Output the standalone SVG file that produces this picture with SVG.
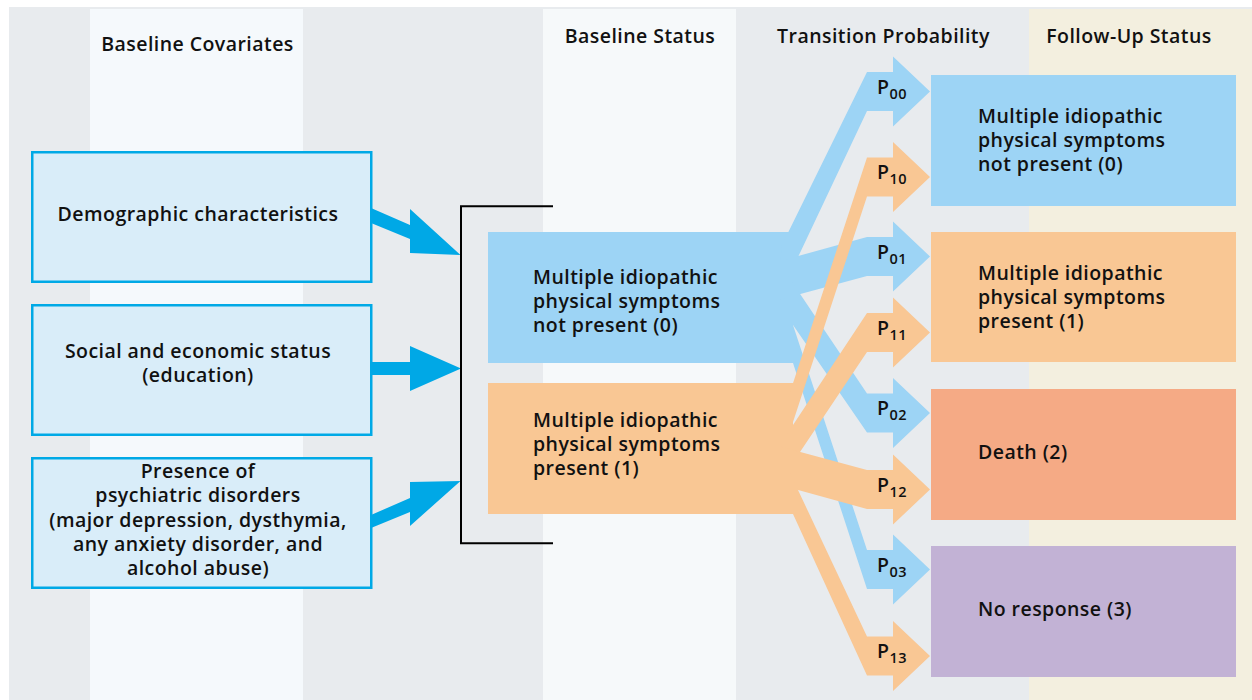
<svg xmlns="http://www.w3.org/2000/svg" width="1252" height="700" viewBox="0 0 1252 700">
<style>
.t{font-family:"Open Sans","Noto Sans","Liberation Sans",sans-serif;font-weight:600;font-size:19.5px;letter-spacing:0.45px;fill:#111}
.h{font-family:"Open Sans","Noto Sans","Liberation Sans",sans-serif;font-weight:600;font-size:19.5px;letter-spacing:0.45px;fill:#111;text-anchor:middle}
.c{text-anchor:middle}
.cov{fill:#d9edf9;stroke:#00a9e6;stroke-width:2.5}
.carrow{fill:#00a8e6}
.blue{fill:#9dd4f5}
.orange{fill:#f9c794}
.sub{font-size:14.5px}
</style>
<g id="background">
<rect x="0" y="0" width="1252" height="700" fill="#ffffff"/>
<rect x="9" y="7" width="1243" height="693" fill="#e8ebee"/>
<rect x="90" y="9" width="213" height="691" fill="#f5f9fc"/>
<rect x="543" y="9" width="193" height="691" fill="#f6f9fa"/>
<rect x="1029" y="9" width="223" height="691" fill="#f3efdf"/>
<text class="h" x="197.5" y="51">Baseline Covariates</text>
<text class="h" x="640" y="43">Baseline Status</text>
<text class="h" x="883.5" y="43">Transition Probability</text>
<text class="h" x="1129" y="43">Follow-Up Status</text>
</g>
<g id="cov-demographic">
<rect class="cov" x="32.25" y="152.25" width="339" height="129.5"/>
<text class="t c" x="198" y="221">Demographic characteristics</text>
</g>
<g id="cov-social">
<rect class="cov" x="32.25" y="305.25" width="339" height="129.5"/>
<text class="t c" x="198" y="358">Social and economic status</text>
<text class="t c" x="198" y="382">(education)</text>
</g>
<g id="cov-psychiatric">
<rect class="cov" x="32.25" y="458.25" width="339" height="129.5"/>
<text class="t c" x="198" y="478">Presence of</text>
<text class="t c" x="198" y="502">psychiatric disorders</text>
<text class="t c" x="198" y="527">(major depression, dysthymia,</text>
<text class="t c" x="198" y="551">any anxiety disorder, and</text>
<text class="t c" x="198" y="575">alcohol abuse)</text>
</g>
<g id="base-0">
<rect class="blue" x="488" y="232" width="305" height="131"/>
<text class="t" x="533" y="284">Multiple idiopathic</text>
<text class="t" x="533" y="308">physical symptoms</text>
<text class="t" x="533" y="332">not present (0)</text>
</g>
<g id="base-1">
<rect class="orange" x="488" y="383" width="305" height="131"/>
<text class="t" x="533" y="427">Multiple idiopathic</text>
<text class="t" x="533" y="451">physical symptoms</text>
<text class="t" x="533" y="475">present (1)</text>
</g>
<g id="connectors">
<polygon class="carrow" points="371,208 410,225 410,209 460.5,255 410,253 410,239 371,223"/>
<polygon class="carrow" points="371,362 410,362 410,346 461,368.5 410,391 410,375 371,375"/>
<polygon class="carrow" points="371,515 410,498 410,482 460.5,481 410,526 410,512 371,528"/>
<path d="M553,206.3 H461 V543.3 H553" fill="none" stroke="#000" stroke-width="2"/>
<polygon class="blue" points="782,245 867,72 893,72 893,56.5 930,91.5 893,126.5 893,111 867,111 795.7,262 780,262"/>
<polygon class="blue" points="780,261 867,237 893,237 893,221.5 930,256.5 893,291.5 893,276 867,276 780,299.5"/>
<polygon class="blue" points="786,273 867,393.5 893,393.5 893,378 930,413 893,448 893,432.5 867,432.5 793,325 786,320"/>
<polygon class="blue" points="780,325 793,325 867,550 893,550 893,534.5 930,569.5 893,604.5 893,589 867,589 793,363 780,363"/>
<polygon class="orange" points="780,400 787.5,400 867,157.5 893,157.5 893,142 930,177 893,212 893,196.5 867,196.5 790.4,430 780,430"/>
<polygon class="orange" points="786.4,435 867,313 893,313 893,297.5 930,332.5 893,367.5 893,352 867,352 800,452 780,452 780,435"/>
<polygon class="orange" points="780,446.6 867,470 893,470 893,454.5 930,489.5 893,524.5 893,509 867,509 780,485"/>
<polygon class="orange" points="780,470 788.6,470 867,636.5 893,636.5 893,621 930,656 893,691 893,675.5 867,675.5 793,514 780,514"/>
<text class="t" x="877" y="94">P<tspan class="sub" dy="5">00</tspan></text>
<text class="t" x="877" y="179">P<tspan class="sub" dy="5">10</tspan></text>
<text class="t" x="877" y="259">P<tspan class="sub" dy="5">01</tspan></text>
<text class="t" x="877" y="335">P<tspan class="sub" dy="5">11</tspan></text>
<text class="t" x="877" y="415">P<tspan class="sub" dy="5">02</tspan></text>
<text class="t" x="877" y="492">P<tspan class="sub" dy="5">12</tspan></text>
<text class="t" x="877" y="572">P<tspan class="sub" dy="5">03</tspan></text>
<text class="t" x="877" y="658">P<tspan class="sub" dy="5">13</tspan></text>
</g>
<g id="follow-0">
<rect class="blue" x="931" y="75" width="305" height="131"/>
<text class="t" x="978" y="123">Multiple idiopathic</text>
<text class="t" x="978" y="147">physical symptoms</text>
<text class="t" x="978" y="171">not present (0)</text>
</g>
<g id="follow-1">
<rect class="orange" x="931" y="232" width="305" height="130"/>
<text class="t" x="978" y="280">Multiple idiopathic</text>
<text class="t" x="978" y="304">physical symptoms</text>
<text class="t" x="978" y="328">present (1)</text>
</g>
<g id="follow-2">
<rect x="931" y="389" width="305" height="131" fill="#f5aa85"/>
<text class="t" x="978" y="459">Death (2)</text>
</g>
<g id="follow-3">
<rect x="931" y="546" width="305" height="131" fill="#c2b2d5"/>
<text class="t" x="978" y="616">No response (3)</text>
</g>
</svg>
